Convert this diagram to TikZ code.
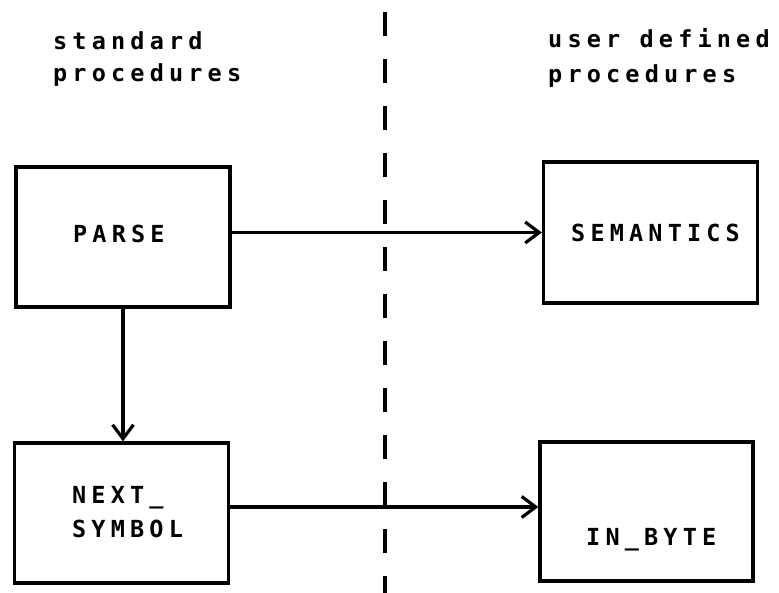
\documentclass[tikz,border=0pt]{standalone}
\usepackage{fontspec}
\newfontfamily\plotfont[LetterSpace=22]{DejaVu Sans Mono Bold}
\usetikzlibrary{arrows.meta}

\begin{document}
\begin{tikzpicture}[x=1pt,y=-1pt,
  proc/.style={draw, line width=3.2pt, inner sep=0pt, minimum width=214pt, minimum height=140pt},
  txt/.style={anchor=base west, inner sep=0pt, font=\plotfont\fontsize{23.5}{30}\selectfont},
  conn/.style={line width=3.2pt, -{Straight Barb[length=14pt,width=21pt,line width=3.2pt]}},
  divider/.style={line width=3.8pt, dash pattern=on 24pt off 23pt}
]
\useasboundingbox (0,0) rectangle (779,593);

% column headings
\node[txt] (hl1) at (53,50) {standard};
\node[txt] (hl2) at (53,82) {procedures};
\node[txt] (hr1) at (548,48) {user defined};
\node[txt] (hr2) at (548,83) {procedures};

% procedure boxes
\node[proc] (parse) at (123,237) {};
\node[proc, minimum height=141pt] (sem) at (650.5,232.5) {};
\node[proc] (next) at (121.5,513) {};
\node[proc, minimum width=213pt, minimum height=139pt] (inb) at (646.5,511.5) {};

% box labels
\node[txt] (tparse) at (73,243) {PARSE};
\node[txt] (tsem) at (571,242) {SEMANTICS};
\node[txt] (tnext1) at (72,503) {NEXT\_};
\node[txt] (tnext2) at (72,537) {SYMBOL};
\node[txt] (tinb) at (586,545) {IN\_BYTE};

% boundary between the two groups
\coordinate (divtop) at (385,12);
\coordinate (divbot) at (385,593);
\draw[divider] (divtop) -- (divbot);

% calls
\draw[conn] (parse.east |- sem.west) -- (sem.west);
\draw[conn] (parse.south) -- (parse.south |- next.north);
\coordinate (nx) at ([yshift=6pt]next.east);
\draw[conn] (nx) -- (nx -| inb.west);
\end{tikzpicture}
\end{document}
